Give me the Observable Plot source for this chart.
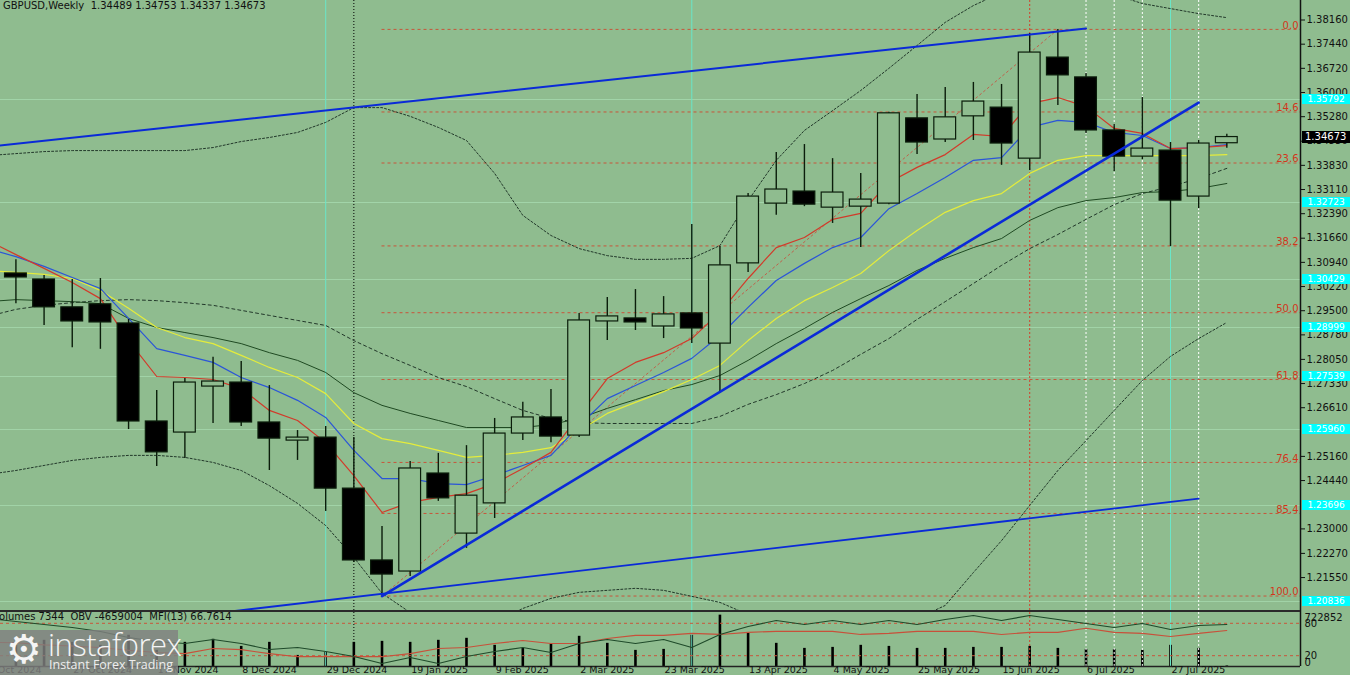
<!DOCTYPE html>
<html><head><meta charset="utf-8">
<script src="https://cdn.jsdelivr.net/npm/d3@7"></script>
<script src="https://cdn.jsdelivr.net/npm/@observablehq/plot@0.6"></script>
<style>
html,body{margin:0;padding:0;background:#8fbc8f;}
#wrap{position:relative;width:1350px;height:675px;overflow:hidden;background:#8fbc8f;font-family:"DejaVu Sans",sans-serif;}
#wrap svg{position:absolute;left:0;}
.ov{position:absolute;white-space:pre;}
</style></head><body><div id="wrap"></div>
<script>
// ---------- DATA ----------
const weeks = ["2024-10-06","2024-10-13","2024-10-20","2024-10-27","2024-11-03","2024-11-10","2024-11-17","2024-11-24","2024-12-01","2024-12-08","2024-12-15","2024-12-22","2024-12-29","2025-01-05","2025-01-12","2025-01-19","2025-01-26","2025-02-02","2025-02-09","2025-02-16","2025-02-23","2025-03-02","2025-03-09","2025-03-16","2025-03-23","2025-03-30","2025-04-06","2025-04-13","2025-04-20","2025-04-27","2025-05-04","2025-05-11","2025-05-18","2025-05-25","2025-06-01","2025-06-08","2025-06-15","2025-06-22","2025-06-29","2025-07-06","2025-07-13","2025-07-20","2025-07-27","2025-08-03","2025-08-10"];
const open  = [null,1.3061,1.3043,1.2960,1.2969,1.2912,1.2620,1.2587,1.2724,1.2736,1.2617,1.2563,1.2572,1.2420,1.2206,1.2173,1.2465,1.2286,1.2376,1.2584,1.2632,1.2578,1.2918,1.2927,1.2903,1.2942,1.2852,1.3091,1.3269,1.3305,1.3257,1.3260,1.3269,1.3523,1.3460,1.3529,1.3555,1.3403,1.3704,1.3645,1.3487,1.3409,1.3427,1.3290,1.34489];
const high  = [null,1.3102,1.3055,1.3043,1.3046,1.2924,1.2712,1.2748,1.2811,1.2799,1.2727,1.2593,1.2605,1.2572,1.2307,1.2501,1.2525,1.2548,1.2629,1.2677,1.2715,1.2942,1.2989,1.3013,1.2992,1.3207,1.3141,1.3299,1.3421,1.3445,1.3403,1.3359,1.3541,1.3594,1.3615,1.3630,1.3624,1.3776,1.3788,1.3657,1.3505,1.3585,1.3451,1.3457,1.34753];
const low   = [null,1.2971,1.2906,1.2840,1.2835,1.2596,1.2486,1.2510,1.2614,1.2605,1.2474,1.2504,1.2352,1.2200,1.2100,1.2158,1.2382,1.2242,1.2331,1.2563,1.2557,1.2572,1.2861,1.2891,1.2867,1.2852,1.2706,1.3064,1.3234,1.3260,1.3210,1.3138,1.3266,1.3415,1.3451,1.3457,1.3383,1.3368,1.3561,1.3478,1.3365,1.3400,1.3141,1.3254,1.34337];
const close = [null,1.3049,1.2960,1.2918,1.2915,1.2620,1.2528,1.2736,1.2739,1.2617,1.2569,1.2572,1.2420,1.2206,1.2164,1.2480,1.2391,1.2399,1.2584,1.2632,1.2575,1.2921,1.2933,1.2915,1.2939,1.2897,1.3085,1.3290,1.3311,1.3266,1.3302,1.3281,1.3538,1.3451,1.3526,1.3573,1.3448,1.3719,1.3651,1.3487,1.3409,1.3433,1.3278,1.3448,1.34673];

const emaRed    = [1.3159,1.3117,1.3076,1.3034,1.2986,1.2861,1.2754,1.2751,1.2745,1.2718,1.2653,1.2623,1.2557,1.2459,1.2349,1.2379,1.2394,1.2405,1.2435,1.2480,1.2528,1.2638,1.2748,1.2796,1.2825,1.2867,1.2945,1.3046,1.3138,1.3168,1.3222,1.3240,1.3332,1.3377,1.3415,1.3475,1.3469,1.3567,1.3585,1.3558,1.3493,1.3478,1.3433,1.3436,1.3442];
const emaBlue   = [1.3135,1.3111,1.3082,1.3049,1.3016,1.2927,1.2837,1.2817,1.2796,1.2751,1.2721,1.2683,1.2632,1.2534,1.2450,1.2450,1.2435,1.2432,1.2459,1.2489,1.2519,1.2608,1.2688,1.2727,1.2766,1.2808,1.2876,1.2960,1.3040,1.3091,1.3138,1.3168,1.3254,1.3299,1.3347,1.3398,1.3406,1.3496,1.3517,1.3511,1.3481,1.3472,1.3433,1.3436,1.3445];
const emaYellow = [1.3070,1.3064,1.3058,1.3046,1.3010,1.2957,1.2900,1.2870,1.2852,1.2817,1.2781,1.2751,1.2703,1.2614,1.2569,1.2554,1.2534,1.2513,1.2519,1.2528,1.2542,1.2593,1.2644,1.2677,1.2709,1.2745,1.2787,1.2861,1.2927,1.2980,1.3019,1.3061,1.3129,1.3189,1.3243,1.3278,1.3299,1.3359,1.3398,1.3412,1.3412,1.3412,1.3412,1.3412,1.3415];
const maGreen   = [1.2977,1.2983,1.2980,1.2977,1.2971,1.2927,1.2900,1.2885,1.2870,1.2852,1.2825,1.2802,1.2766,1.2706,1.2668,1.2644,1.2623,1.2602,1.2602,1.2602,1.2611,1.2629,1.2659,1.2685,1.2712,1.2730,1.2757,1.2802,1.2852,1.2897,1.2945,1.2986,1.3025,1.3070,1.3106,1.3138,1.3165,1.3219,1.3257,1.3278,1.3287,1.3302,1.3305,1.3314,1.3329];
const bbUpper   = [1.3412,1.3418,1.3424,1.3427,1.3427,1.3427,1.3427,1.3427,1.3436,1.3454,1.3466,1.3481,1.3511,1.3555,1.3555,1.3529,1.3496,1.3457,1.3359,1.3234,1.3174,1.3135,1.3114,1.3103,1.3103,1.3106,1.3144,1.3278,1.3398,1.3487,1.3546,1.3606,1.3672,1.3740,1.3809,1.3859,1.3898,1.3919,1.3928,1.3916,1.3892,1.3865,1.3850,1.3835,1.3823];
const bbMiddle  = [1.2933,1.2954,1.2966,1.2974,1.2980,1.2983,1.2980,1.2974,1.2966,1.2951,1.2936,1.2921,1.2906,1.2861,1.2822,1.2787,1.2751,1.2724,1.2688,1.2653,1.2629,1.2617,1.2614,1.2614,1.2614,1.2614,1.2635,1.2671,1.2700,1.2733,1.2772,1.2820,1.2867,1.2924,1.2977,1.3031,1.3085,1.3135,1.3177,1.3222,1.3266,1.3299,1.3320,1.3344,1.3374];
const bbLower   = [1.2462,1.2474,1.2489,1.2504,1.2513,1.2519,1.2519,1.2513,1.2498,1.2474,1.2429,1.2376,1.2310,1.2215,1.2108,1.2051,1.2012,1.2003,1.2021,1.2063,1.2093,1.2111,1.2117,1.2123,1.2117,1.2099,1.2081,1.2045,1.2003,1.1968,1.1953,1.1968,1.1997,1.2033,1.2072,1.2170,1.2265,1.2370,1.2474,1.2563,1.2653,1.2742,1.2814,1.2867,1.2915];

const volume = [300000,298000,368500,340000,298000,439000,227000,340000,383000,283000,340000,156000,198000,340000,354000,340000,368500,397000,298000,255000,312000,425000,326000,227000,241000,439000,722852,468000,326000,255000,269000,298000,283000,255000,255000,269000,269000,283000,255000,241000,241000,227000,298000,255000,7344];
const obv = [-4311000,-4485000,-4659000,-4833000,-5065000,-5413000,-5645000,-5761000,-5529000,-5761000,-6109000,-5993000,-6225000,-6515000,-6921000,-6573000,-6921000,-6515000,-6225000,-5993000,-6283000,-5761000,-5529000,-5761000,-5529000,-5993000,-5239000,-4775000,-4427000,-4659000,-4427000,-4659000,-4427000,-4659000,-4369000,-4137000,-4427000,-4137000,-4369000,-4601000,-4833000,-4601000,-4949000,-4717000,-4659004];
const mfi = [45,44,40,38,35,30,26,23.8,33.2,31.3,23.8,18.2,18.2,18.2,18.2,23.8,33.2,35.1,42.6,48.2,42.6,42.6,51.9,57.6,57.6,61.3,59.4,63.2,65.1,65.1,65.1,59.4,61.3,65.1,65.1,65.1,59.4,63.2,63.2,70.7,63.2,61.3,55.7,61.3,66.7614];

// visible price-axis labels (1.25880 and 1.23720 sit under the cyan price boxes)
const yTicks = [1.38160,1.37440,1.36720,1.36000,1.35280,1.34550,1.33830,1.33110,1.32390,1.31660,1.30940,1.30220,1.29500,1.28780,1.28050,1.27330,1.26610,1.25160,1.24440,1.23000,1.22270,1.21550];
const dateTicks = ["2024-10-06","2024-10-27","2024-11-17","2024-12-08","2024-12-29","2025-01-19","2025-02-09","2025-03-02","2025-03-23","2025-04-13","2025-05-04","2025-05-25","2025-06-15","2025-07-06","2025-07-27"];
const fibLabels = ["0.0","14.6","23.6","38.2","50.0","61.8","76.4","85.4","100.0"];
const fibPrices = [1.3788,1.3542,1.3390,1.3143,1.2944,1.2745,1.2498,1.2346,1.2100];
const fibStart = "2025-01-12";
const fibDiag = [{date:"2025-01-12",price:1.2100},{date:"2025-06-29",price:1.3788}];
const trendUpper = [{date:"2024-10-06",price:1.3438},{date:"2025-07-06",price:1.3791}];
const trendLower = [{date:"2024-12-01",price:1.2048},{date:"2025-08-03",price:1.2390}];
const trendMain  = [{date:"2025-01-12",price:1.2100},{date:"2025-08-03",price:1.3570}];
const hLevels = [1.35792,1.32723,1.30429,1.28999,1.27539,1.25960,1.23696,1.20836];
const cyanDays = ["2024-12-29","2025-03-30","2025-07-27"];
const blackDays = ["2025-01-05"];
const redDays = ["2025-06-22"];
const whiteDays = ["2025-07-06","2025-07-13","2025-07-20","2025-08-03"];
const lastPrice = 1.34673;
const headerText = "GBPUSD,Weekly  1.34489 1.34753 1.34337 1.34673";
const panelText = "Volumes 7344  OBV -4659004  MFI(13) 66.7614";
const volMax = 722852;

// ---------- BUILD ----------
const D = s => new Date(s);
const bars = weeks.map((w,k)=>({date:D(w),o:open[k],h:high[k],l:low[k],c:close[k],
  red:emaRed[k],blue:emaBlue[k],yellow:emaYellow[k],green:maGreen[k],
  up:bbUpper[k],mid:bbMiddle[k],lo:bbLower[k],vol:volume[k],obv:obv[k],mfi:mfi[k]}));
const candles = bars.filter(d=>d.o!=null);
const fibRows = fibLabels.map((l,k)=>({label:l,price:fibPrices[k]}));
const pts = a => a.map(d=>({date:D(d.date),price:d.price}));

const W=1350;
const xDomain=[D("2024-10-09T04:00:00Z"), D("2025-08-28T07:30:00Z")];
const yDomain=[1.205095, 1.38741];
const fmt5=d3.format(".5f");
const BG="#8fbc8f";
const style={background:"transparent",fontFamily:"DejaVu Sans, sans-serif",fontSize:"10px",color:"#111",overflow:"visible"};
const xs={type:"utc",domain:xDomain,axis:null};

function vlines(){
  return [
    Plot.ruleX(cyanDays,{x:D,stroke:"#6ae6c8",strokeWidth:1}),
    Plot.ruleX(blackDays,{x:D,stroke:"#000",strokeDasharray:"1,2"}),
    Plot.ruleX(redDays,{x:D,stroke:"#d4402a",strokeDasharray:"2,2"}),
    Plot.ruleX(whiteDays,{x:D,stroke:"#ffffff",strokeDasharray:"2,2"})
  ];
}
const BBC="#22382a";
const main = Plot.plot({
  width:W,height:612,marginTop:0,marginBottom:0,marginLeft:0,marginRight:50,
  style,x:xs,y:{domain:yDomain,axis:null},
  marks:[
    Plot.ruleY(hLevels,{stroke:"#a8dcb2",strokeWidth:1,strokeOpacity:0.75}),
    ...vlines(),
    Plot.ruleY(fibRows,{y:"price",x1:()=>D(fibStart),x2:()=>xDomain[1],stroke:"#c8553a",strokeDasharray:"3,3",strokeWidth:1}),
    Plot.text(fibRows,{y:"price",text:"label",frameAnchor:"right",textAnchor:"end",dx:-2,dy:-4,fill:"#d3361c",fontSize:10}),
    Plot.line(pts(fibDiag),{x:"date",y:"price",stroke:"#c0604a",strokeDasharray:"2,3",strokeWidth:1}),
    Plot.line(bars,{x:"date",y:"up",stroke:BBC,strokeDasharray:"2,2",strokeWidth:1,clip:true}),
    Plot.line(bars,{x:"date",y:"mid",stroke:BBC,strokeDasharray:"3,3",strokeWidth:1,clip:true}),
    Plot.line(bars,{x:"date",y:"lo",stroke:BBC,strokeDasharray:"2,2",strokeWidth:1,clip:true}),
    Plot.line(bars,{x:"date",y:"green",stroke:"#1f4a22",strokeWidth:1,clip:true}),
    Plot.line(bars,{x:"date",y:"yellow",stroke:"#e4ec3c",strokeWidth:1.2,clip:true}),
    Plot.line(bars,{x:"date",y:"blue",stroke:"#2b55d8",strokeWidth:1.2,clip:true}),
    Plot.line(bars,{x:"date",y:"red",stroke:"#d23a2a",strokeWidth:1.2,clip:true}),
    Plot.ruleX(candles,{x:"date",y1:"l",y2:"h",stroke:"#0b1d0b",strokeWidth:1.4}),
    Plot.rect(candles,{x1:d=>d3.utcHour.offset(d.date,-65),x2:d=>d3.utcHour.offset(d.date,65),
      y1:d=>Math.min(d.o,d.c),y2:d=>Math.max(d.o,d.c),
      fill:d=>d.c>=d.o?BG:"#000",stroke:"#0b1d0b",strokeWidth:1.2}),
    Plot.line(pts(trendUpper),{x:"date",y:"price",stroke:"#0a2ad8",strokeWidth:2,clip:true}),
    Plot.line(pts(trendLower),{x:"date",y:"price",stroke:"#0a2ad8",strokeWidth:1.8,clip:true}),
    Plot.line(pts(trendMain),{x:"date",y:"price",stroke:"#0a2ad8",strokeWidth:2.6,clip:true}),
    Plot.axisY(yTicks,{anchor:"right",tickFormat:fmt5,tickSize:4,tickPadding:2,fontSize:10}),
    Plot.ruleX([xDomain[1]],{stroke:"#111",strokeWidth:1.5})
  ]
});
main.style.top="0px";

const pm = {width:W,height:63,marginTop:0,marginBottom:9,marginLeft:0,marginRight:50,style,x:xs};
const volPlot = Plot.plot({...pm,y:{domain:[0,760000],axis:null},marks:[
  Plot.ruleX(bars,{x:"date",y1:0,y2:"vol",stroke:"#000",strokeWidth:2.6}),
  Plot.text([volMax],{y:d=>d,text:d=>String(d),frameAnchor:"right",textAnchor:"start",dx:4,dy:3,fill:"#111"})
]});
const mfiPlot = Plot.plot({...pm,y:{domain:[0,100],axis:null},marks:[
  ...vlines(),
  Plot.ruleY([20,80],{stroke:"#c8553a",strokeDasharray:"3,3"}),
  Plot.line(bars,{x:"date",y:"mfi",stroke:"#c8503a",strokeWidth:1.1,clip:true}),
  Plot.text([80,20],{y:d=>d,text:d=>String(d),frameAnchor:"right",textAnchor:"start",dx:4,fill:"#111"}),
  Plot.text([0],{y:d=>d,text:d=>String(d),frameAnchor:"right",textAnchor:"start",dx:4,dy:-4,fill:"#111"}),
  Plot.ruleY([0],{stroke:"#222",strokeWidth:1.5}),
  Plot.ruleX([xDomain[1]],{stroke:"#111",strokeWidth:1.5}),
  Plot.text(dateTicks,{x:D,text:d=>d3.utcFormat("%-d %b %Y")(D(d)),frameAnchor:"bottom",lineAnchor:"top",textAnchor:"start",dx:1,dy:0,fill:"#111",fontSize:9.5})
]});
const obvPlot = Plot.plot({...pm,y:{domain:[-7095004,-3963004],axis:null},marks:[
  Plot.line(bars,{x:"date",y:"obv",stroke:"#1f4a2a",strokeWidth:1.1,clip:true})
]});
const wrap=document.getElementById("wrap");
wrap.appendChild(main);
[volPlot,mfiPlot,obvPlot].forEach(p=>{p.style.top="612px";wrap.appendChild(p);});

// overlays
function ov(html,css){const d=document.createElement("div");d.className="ov";d.textContent=html;Object.assign(d.style,css);wrap.appendChild(d);return d;}
const sy=main.scale("y");
const yPix = sy.apply ? (v=>sy.apply(v)) : d3.scaleLinear(sy.domain,sy.range);
hLevels.forEach(p=>{
  ov(fmt5(p),{left:"1302px",width:"48px",top:(yPix(p)-5)+"px",height:"10px",background:"#00ffff",color:"#ffffff",fontSize:"9px",lineHeight:"10px",textAlign:"center"});
});
ov(fmt5(lastPrice),{left:"1302px",width:"48px",top:(yPix(lastPrice)-6)+"px",height:"12px",background:"#000",color:"#fff",fontSize:"10px",lineHeight:"12px",paddingLeft:"3px",boxSizing:"border-box"});
ov(headerText,{left:"3px",top:"0px",fontSize:"10px",lineHeight:"12px",color:"#111"});
ov("",{left:"0px",top:"610px",width:"1300px",height:"2px",background:"#2a2a2a"});
ov(panelText,{left:"-7px",top:"611px",fontSize:"10px",lineHeight:"12px",color:"#111"});
// logo
ov("",{left:"0px",top:"630px",width:"178px",height:"45px",background:"rgba(128,128,128,0.82)"});
ov("\u2699",{left:"6px",top:"626px",fontSize:"40px",lineHeight:"46px",color:"#f4f4f4"});
ov("instaforex",{left:"48px",top:"627px",fontSize:"31px",lineHeight:"34px",color:"#f4f4f4",fontFamily:"Open Sans, DejaVu Sans, sans-serif",fontWeight:"300",letterSpacing:"-0.5px"});
ov("Instant Forex Trading",{left:"49px",top:"658px",fontSize:"12.5px",lineHeight:"14px",color:"#eeeeee",fontFamily:"Open Sans, DejaVu Sans, sans-serif"});
</script></body></html>
